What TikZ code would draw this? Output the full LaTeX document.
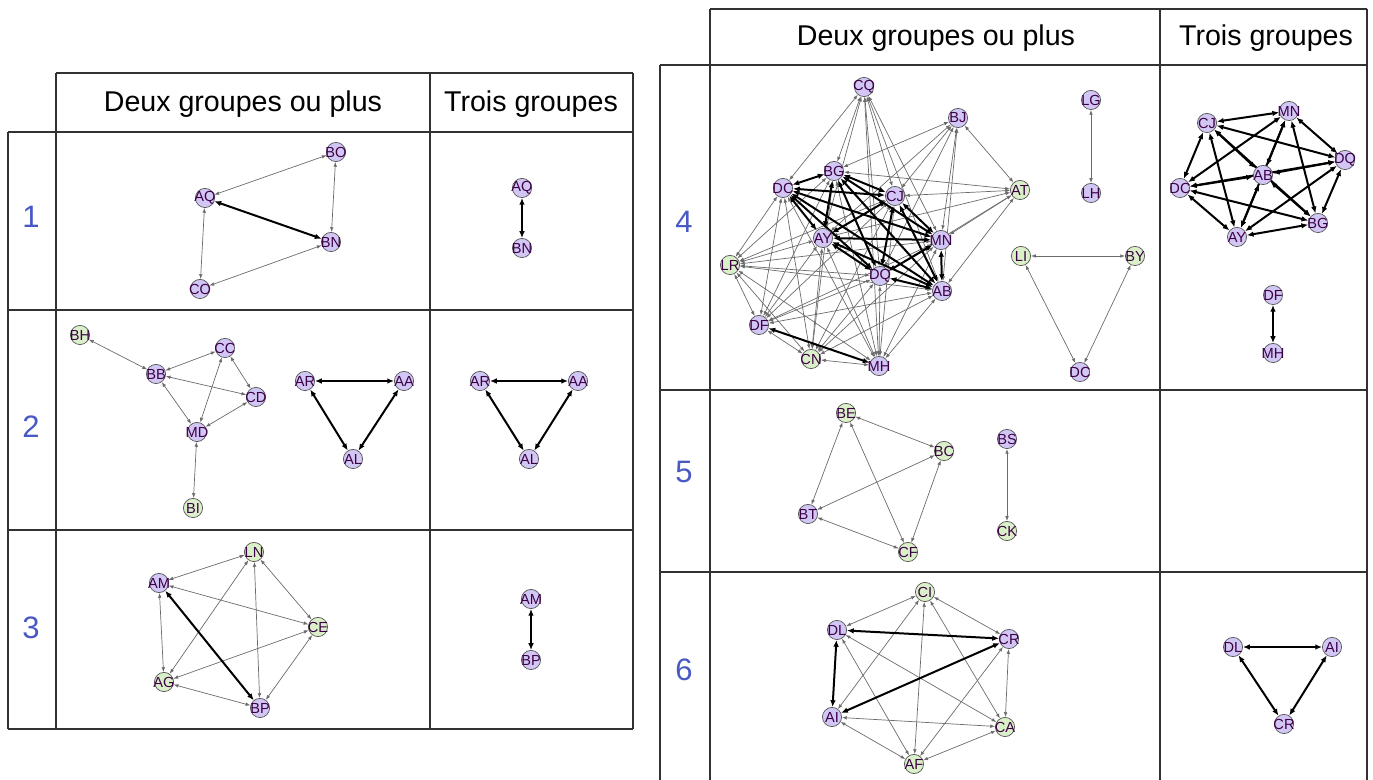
\documentclass[tikz,border=0pt]{standalone}
\usepackage{fontspec}
\setmainfont{Liberation Sans}
\usepackage{xcolor}
\usetikzlibrary{arrows.meta, backgrounds}

\definecolor{lilac}{RGB}{210,198,244}
\definecolor{mint}{RGB}{218,240,200}
\definecolor{lbltxt}{RGB}{60,0,70}
\definecolor{rowblue}{RGB}{72,88,196}
\definecolor{gridgray}{RGB}{50,50,50}

\begin{document}
\begin{tikzpicture}[
    x=0.5pt, y=-0.5pt,
    lbl/.style={font=\fontsize{7.3}{7.3}\selectfont, text=lbltxt, inner sep=0pt},
    pnode/.style={
        circle, draw=black!65, line width=0.35pt, fill=lilac,
        inner sep=0pt, minimum size=9.6pt,
        label={[lbl]center:#1}
    },
    gnode/.style={pnode=#1, fill=mint},
    arr/.style={line width=0.35pt, black!58,
        {Latex[length=2.4pt,width=1.8pt]}-{Latex[length=2.4pt,width=1.8pt]}},
    thk/.style={line width=1pt, black,
        {Latex[length=3.4pt,width=2.8pt]}-{Latex[length=3.4pt,width=2.8pt]}},
    grid/.style={line width=1pt, gridgray},
    head/.style={font=\fontsize{14.3}{14.3}\selectfont, text=black},
    rownum/.style={font=\fontsize{15.5}{15.5}\selectfont, text=rowblue},
]
\useasboundingbox (0,0) rectangle (1373,780);

% Left table
\draw[grid] (56,73) -- (633,73);
\draw[grid] (8,132) -- (633,132);
\draw[grid] (8,310) -- (633,310);
\draw[grid] (8,530) -- (633,530);
\draw[grid] (8,729) -- (633,729);
\draw[grid] (8,132) -- (8,729);
\draw[grid] (56,73) -- (56,729);
\draw[grid] (430,73) -- (430,729);
\draw[grid] (633,73) -- (633,729);

% Right table
\draw[grid] (710,9) -- (1367,9);
\draw[grid] (660,65) -- (1367,65);
\draw[grid] (660,390) -- (1367,390);
\draw[grid] (660,572) -- (1367,572);
\draw[grid] (660,65) -- (660,780);
\draw[grid] (710,9) -- (710,780);
\draw[grid] (1160,9) -- (1160,780);
\draw[grid] (1367,9) -- (1367,780);

% Headers and row numbers
\node[head] (hdL1) at (243,104) {Deux groupes ou plus};
\node[head] (hdL2) at (531,104) {Trois groupes};
\node[head] (hdR1) at (936,38) {Deux groupes ou plus};
\node[head] (hdR2) at (1266,38) {Trois groupes};
\node[rownum] (n1) at (31,217) {1};
\node[rownum] (n2) at (31,427) {2};
\node[rownum] (n3) at (31,628) {3};
\node[rownum] (n4) at (684,222) {4};
\node[rownum] (n5) at (684,472) {5};
\node[rownum] (n6) at (684,670) {6};

% Row 1
\node[pnode=BO] (d1BO) at (336,152) {};
\node[pnode=AQ] (d1AQ) at (205,198) {};
\node[pnode=BN] (d1BN) at (331,242) {};
\node[pnode=CO] (d1CO) at (200,289) {};
\node[pnode=AQ] (t1AQ) at (522,188) {};
\node[pnode=BN] (t1BN) at (522,248) {};

% Row 2
\node[gnode=BH] (d2BH) at (80,335) {};
\node[pnode=CC] (d2CC) at (225,348) {};
\node[pnode=BB] (d2BB) at (156,374) {};
\node[pnode=CD] (d2CD) at (256,397) {};
\node[pnode=MD] (d2MD) at (197,432) {};
\node[gnode=BI] (d2BI) at (193,508) {};
\node[pnode=AR] (d2AR) at (305,381) {};
\node[pnode=AA] (d2AA) at (404,381) {};
\node[pnode=AL] (d2AL) at (353,459) {};
\node[pnode=AR] (t2AR) at (480,381) {};
\node[pnode=AA] (t2AA) at (578,381) {};
\node[pnode=AL] (t2AL) at (529,459) {};

% Row 3
\node[gnode=LN] (d3LN) at (254,552) {};
\node[pnode=AM] (d3AM) at (159,583) {};
\node[gnode=CE] (d3CE) at (318,627) {};
\node[gnode=AG] (d3AG) at (164,682) {};
\node[pnode=BP] (d3BP) at (260,708) {};
\node[pnode=AM] (t3AM) at (531,599) {};
\node[pnode=BP] (t3BP) at (531,660) {};

% Row 4, two groups or more
\node[pnode=CQ] (d4CQ) at (864,87) {};
\node[pnode=BJ] (d4BJ) at (958,118) {};
\node[pnode=BG] (d4BG) at (834,171) {};
\node[pnode=DC] (d4DC) at (783,188) {};
\node[pnode=CJ] (d4CJ) at (895,196) {};
\node[gnode=AT] (d4AT) at (1020,190) {};
\node[pnode=AY] (d4AY) at (823,238) {};
\node[pnode=MN] (d4MN) at (941,240) {};
\node[gnode=LR] (d4LR) at (730,265) {};
\node[pnode=DQ] (d4DQ) at (880,276) {};
\node[pnode=AB] (d4AB) at (942,291) {};
\node[pnode=DF] (d4DF) at (759,325) {};
\node[gnode=CN] (d4CN) at (811,359) {};
\node[pnode=MH] (d4MH) at (879,366) {};
\node[pnode=LG] (d4LG) at (1091,100) {};
\node[pnode=LH] (d4LH) at (1091,193) {};
\node[gnode=LI] (d4LI) at (1021,256) {};
\node[gnode=BY] (d4BY) at (1135,256) {};
\node[pnode=DC] (d4DCb) at (1080,372) {};

% Row 4, three groups
\node[pnode=MN] (t4MN) at (1289,111) {};
\node[pnode=CJ] (t4CJ) at (1207,123) {};
\node[pnode=DQ] (t4DQ) at (1345,160) {};
\node[pnode=AB] (t4AB) at (1263,175) {};
\node[pnode=DC] (t4DC) at (1180,188) {};
\node[pnode=BG] (t4BG) at (1318,223) {};
\node[pnode=AY] (t4AY) at (1237,237) {};
\node[pnode=DF] (t4DF) at (1273,295) {};
\node[pnode=MH] (t4MH) at (1273,353) {};

% Row 5
\node[gnode=BE] (d5BE) at (846,413) {};
\node[gnode=BC] (d5BC) at (944,451) {};
\node[pnode=BS] (d5BS) at (1007,439) {};
\node[pnode=BT] (d5BT) at (808,514) {};
\node[gnode=CF] (d5CF) at (908,552) {};
\node[gnode=CK] (d5CK) at (1007,531) {};

% Row 6
\node[gnode=CI] (d6CI) at (925,592) {};
\node[pnode=DL] (d6DL) at (837,630) {};
\node[pnode=CR] (d6CR) at (1009,639) {};
\node[pnode=AI] (d6AI) at (832,717) {};
\node[gnode=CA] (d6CA) at (1005,727) {};
\node[gnode=AF] (d6AF) at (914,764) {};
\node[pnode=DL] (t6DL) at (1233,647) {};
\node[pnode=AI] (t6AI) at (1332,647) {};
\node[pnode=CR] (t6CR) at (1284,724) {};

\begin{pgfonlayer}{background}
% Row 1 links
\draw[arr] (d1AQ) edge (d1BO) edge (d1CO);
\draw[arr] (d1BN) edge (d1BO) edge (d1CO);
\draw[thk] (d1AQ) -- (d1BN);
\draw[thk] (t1AQ) -- (t1BN);

% Row 2 links
\draw[arr] (d2BB) edge (d2BH) edge (d2CC) edge (d2CD) edge (d2MD);
\draw[arr] (d2CC) edge (d2CD) edge (d2MD);
\draw[arr] (d2MD) edge (d2CD) edge (d2BI);
\draw[thk] (d2AR) edge (d2AA) edge (d2AL);
\draw[thk] (d2AA) -- (d2AL);
\draw[thk] (t2AR) edge (t2AA) edge (t2AL);
\draw[thk] (t2AA) -- (t2AL);

% Row 3 links
\draw[arr] (d3LN) edge (d3AM) edge (d3CE) edge (d3AG) edge (d3BP);
\draw[arr] (d3AM) edge (d3CE) edge (d3AG);
\draw[arr] (d3CE) edge (d3AG) edge (d3BP);
\draw[arr] (d3AG) -- (d3BP);
\draw[thk] (d3AM) -- (d3BP);
\draw[thk] (t3AM) -- (t3BP);

% Row 4 links, outer members
\draw[arr] (d4CQ) edge (d4DC) edge (d4BG) edge (d4CJ) edge (d4AY)
    edge (d4MN) edge (d4DQ) edge (d4AB) edge (d4MH);
\draw[arr] (d4BJ) edge (d4BG) edge (d4CJ) edge (d4AY) edge (d4MN)
    edge (d4DQ) edge (d4AB) edge (d4AT);
\draw[arr] (d4AT) edge (d4BG) edge (d4CJ) edge (d4AY) edge (d4MN)
    edge (d4DQ) edge (d4AB);
\draw[arr] (d4LR) edge (d4DC) edge (d4BG) edge (d4AY) edge (d4CJ)
    edge (d4MN) edge (d4DQ) edge (d4AB) edge (d4DF) edge (d4CN) edge (d4MH);
\draw[arr] (d4DF) edge (d4DC) edge (d4BG) edge (d4AY) edge (d4CJ)
    edge (d4MN) edge (d4DQ) edge (d4AB) edge (d4CN);
\draw[arr] (d4CN) edge (d4DC) edge (d4BG) edge (d4AY) edge (d4CJ)
    edge (d4DQ) edge (d4AB) edge (d4MN) edge (d4MH);
\draw[arr] (d4MH) edge (d4DC) edge (d4BG) edge (d4AY) edge (d4CJ)
    edge (d4DQ) edge (d4MN) edge (d4AB);
\draw[thk] (d4DF) -- (d4MH);

% Row 4 links, core
\draw[thk] (d4DC) edge (d4BG) edge (d4CJ) edge (d4AY) edge (d4MN) edge (d4DQ) edge (d4AB);
\draw[thk] (d4BG) edge (d4CJ) edge (d4AY) edge (d4MN) edge (d4DQ) edge (d4AB);
\draw[thk] (d4CJ) edge (d4AY) edge (d4MN) edge (d4DQ) edge (d4AB);
\draw[thk] (d4AY) edge (d4MN) edge (d4DQ) edge (d4AB);
\draw[thk] (d4MN) edge (d4DQ) edge (d4AB);
\draw[thk] (d4DQ) -- (d4AB);

% Row 4 links, small groups
\draw[arr] (d4LG) -- (d4LH);
\draw[arr] (d4LI) edge (d4BY) edge (d4DCb);
\draw[arr] (d4BY) -- (d4DCb);

% Row 4 links, three groups
\draw[thk] (t4MN) edge (t4CJ) edge (t4DQ) edge (t4AB) edge (t4DC) edge (t4BG) edge (t4AY);
\draw[thk] (t4CJ) edge (t4DQ) edge (t4AB) edge (t4DC) edge (t4BG) edge (t4AY);
\draw[thk] (t4DQ) edge (t4AB) edge (t4DC) edge (t4BG) edge (t4AY);
\draw[thk] (t4AB) edge (t4DC) edge (t4BG) edge (t4AY);
\draw[thk] (t4DC) edge (t4BG) edge (t4AY);
\draw[thk] (t4BG) -- (t4AY);
\draw[thk] (t4DF) -- (t4MH);

% Row 5 links
\draw[arr] (d5BE) edge (d5BC) edge (d5BT) edge (d5CF);
\draw[arr] (d5BC) edge (d5BT) edge (d5CF);
\draw[arr] (d5BT) -- (d5CF);
\draw[arr] (d5BS) -- (d5CK);

% Row 6 links
\draw[arr] (d6CI) edge (d6DL) edge (d6CR) edge (d6AI) edge (d6CA) edge (d6AF);
\draw[arr] (d6DL) edge (d6CA) edge (d6AF);
\draw[arr] (d6CR) edge (d6CA) edge (d6AF);
\draw[arr] (d6AI) edge (d6CA) edge (d6AF);
\draw[arr] (d6CA) -- (d6AF);
\draw[thk] (d6DL) edge (d6CR) edge (d6AI);
\draw[thk] (d6AI) -- (d6CR);
\draw[thk] (t6DL) edge (t6AI) edge (t6CR);
\draw[thk] (t6AI) -- (t6CR);
\end{pgfonlayer}

\end{tikzpicture}
\end{document}
